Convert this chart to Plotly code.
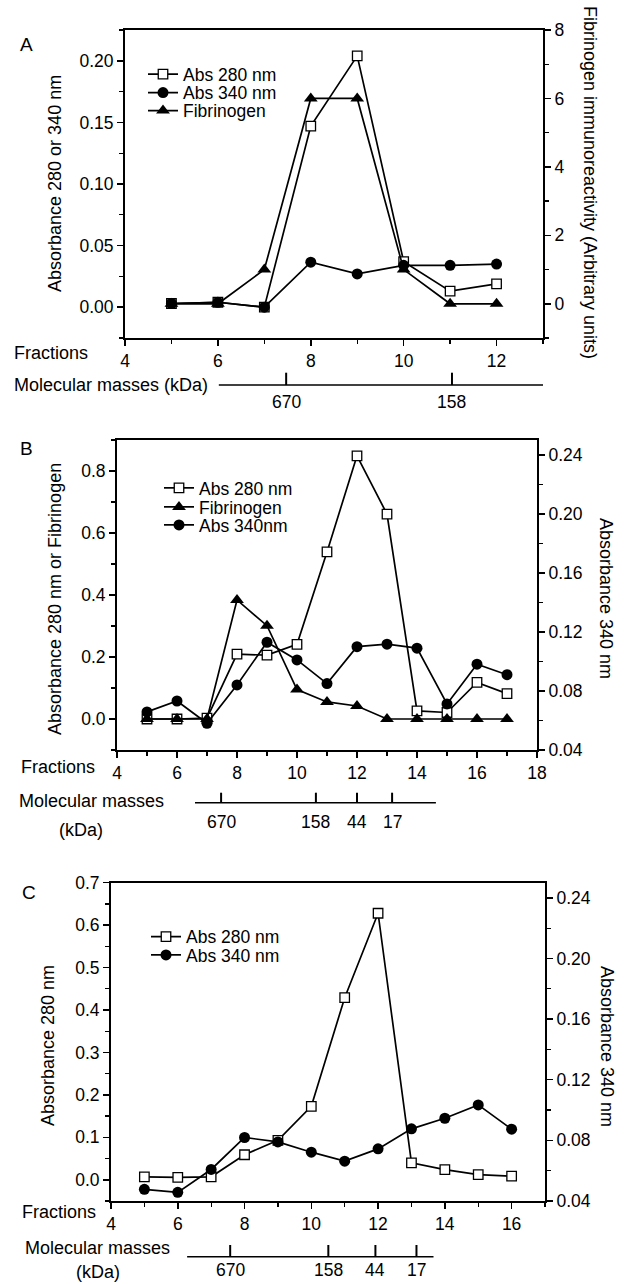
import plotly.graph_objects as go

W, H = 624, 1284

# ---------------- data ----------------
fractions_A = [5, 6, 7, 8, 9, 10, 11, 12]
abs280_A = [0.003, 0.004, 0.000, 0.147, 0.204, 0.037, 0.013, 0.019]
abs340_A = [0.003, 0.004, 0.000, 0.0365, 0.027, 0.034, 0.034, 0.035]
fib_A = [0, 0, 1.0, 6.0, 6.0, 1.0, 0, 0]

fractions_B = [5, 6, 7, 8, 9, 10, 11, 12, 13, 14, 15, 16, 17]
abs280_B = [0.0, 0.0, 0.003, 0.209, 0.206, 0.241, 0.539, 0.849, 0.661, 0.026, 0.021, 0.118, 0.082]
fib_B = [0, 0, 0, 0.384, 0.301, 0.095, 0.055, 0.042, 0, 0, 0, 0, 0]
abs340_B = [0.0658, 0.0732, 0.0581, 0.0841, 0.113, 0.101, 0.085, 0.110, 0.1117, 0.109, 0.0712, 0.0981, 0.091]

fractions_C = [5, 6, 7, 8, 9, 10, 11, 12, 13, 14, 15, 16]
abs280_C = [0.007, 0.0055, 0.007, 0.059, 0.093, 0.173, 0.429, 0.628, 0.040, 0.024, 0.012, 0.0086]
abs340_C = [0.0477, 0.0457, 0.0608, 0.0819, 0.079, 0.0722, 0.0663, 0.0744, 0.0876, 0.0946, 0.1034, 0.0874]

# molecular mass markers (in fraction units)
mw_labels_A = ["670", "158"]
mw_pos_A = [7.47, 11.04]
mw_span_A = [6.02, 13.09]
mw_labels_B = ["670", "158", "44", "17"]
mw_pos_B = [7.47, 10.63, 12.0, 13.17]
mw_span_B = [6.6, 14.63]
mw_labels_C = ["670", "158", "44", "17"]
mw_pos_C = [7.57, 10.51, 11.92, 13.15]
mw_span_C = [6.28, 13.66]

# ---------------- helpers ----------------
def px(x):
    return x / W

def py(y):
    return 1 - y / H

FONT = "Liberation Sans, Arial, Helvetica, sans-serif"
LW = 1.7

sq = dict(symbol="square", size=9.5, color="white", line=dict(color="black", width=1.3))
ci = dict(symbol="circle", size=11, color="black", line=dict(color="black", width=0))
tr = dict(symbol="triangle-up", size=12, color="black", line=dict(color="black", width=0))
ln = dict(color="black", width=LW)

fig = go.Figure()

# Panel A
fig.add_trace(go.Scatter(x=fractions_A, y=abs280_A, name="Abs 280 nm", mode="lines+markers",
                         marker=sq, line=ln, xaxis="x", yaxis="y", legend="legend"))
fig.add_trace(go.Scatter(x=fractions_A, y=abs340_A, name="Abs 340 nm", mode="lines+markers",
                         marker=ci, line=ln, xaxis="x", yaxis="y", legend="legend2"))
fig.add_trace(go.Scatter(x=fractions_A, y=fib_A, name="Fibrinogen", mode="lines+markers",
                         marker=tr, line=ln, xaxis="x", yaxis="y2", legend="legend3"))
# Panel B
fig.add_trace(go.Scatter(x=fractions_B, y=abs280_B, name="Abs 280 nm", mode="lines+markers",
                         marker=sq, line=ln, xaxis="x2", yaxis="y3", legend="legend4"))
fig.add_trace(go.Scatter(x=fractions_B, y=fib_B, name="Fibrinogen", mode="lines+markers",
                         marker=tr, line=ln, xaxis="x2", yaxis="y3", legend="legend5"))
fig.add_trace(go.Scatter(x=fractions_B, y=abs340_B, name="Abs 340nm", mode="lines+markers",
                         marker=ci, line=ln, xaxis="x2", yaxis="y4", legend="legend6"))
# Panel C
fig.add_trace(go.Scatter(x=fractions_C, y=abs280_C, name="Abs 280 nm", mode="lines+markers",
                         marker=sq, line=ln, xaxis="x3", yaxis="y5", legend="legend7"))
fig.add_trace(go.Scatter(x=fractions_C, y=abs340_C, name="Abs 340 nm", mode="lines+markers",
                         marker=ci, line=ln, xaxis="x3", yaxis="y6", legend="legend8"))

TICKFONT = dict(family=FONT, size=17.5, color="black")

def xax(dom, rng, anchor):
    return dict(domain=dom, range=rng, anchor=anchor, tick0=4, dtick=2,
                ticks="outside", ticklen=6, tickwidth=1.5, tickcolor="black",
                minor=dict(dtick=1, tick0=4, ticks="outside", ticklen=4, tickwidth=1.3, tickcolor="black"),
                showline=True, linewidth=2, linecolor="black", mirror=True, automargin=False,
                showgrid=False, zeroline=False, tickfont=TICKFONT)

def yax(dom, rng, anchor, dtick, tick0, fmt, mdt, side="left", overlay=None):
    d = dict(domain=dom, range=rng, anchor=anchor, dtick=dtick, tick0=tick0, tickformat=fmt,
             ticks="outside", ticklen=6, tickwidth=1.5, tickcolor="black", side=side,
             minor=dict(dtick=mdt, tick0=tick0, ticks="outside", ticklen=4, tickwidth=1.3, tickcolor="black"),
             showline=True, linewidth=2, linecolor="black", automargin=False,
             showgrid=False, zeroline=False, tickfont=TICKFONT)
    if overlay:
        d["overlaying"] = overlay
    return d

domA_x = [px(125), px(543)]
domA_y = [py(338), py(30)]
domB_x = [px(117), px(537)]
domB_y = [py(750), py(440)]
domC_x = [px(111), px(545)]
domC_y = [py(1201), py(882.7)]

layout = dict(
    template="none",
    width=W, height=H, margin=dict(l=0, r=0, t=0, b=0, autoexpand=False),
    paper_bgcolor="white", plot_bgcolor="white", showlegend=True,
    font=dict(family=FONT, size=18, color="black"),
    xaxis=xax(domA_x, [4, 13], "y"),
    yaxis=yax(domA_y, [-0.025, 0.225], "x", 0.05, 0, ".2f", 0.025),
    yaxis2=yax(domA_y, [-1, 8], "x", 2, 0, "d", 1, side="right", overlay="y"),
    xaxis2=xax(domB_x, [4, 18], "y3"),
    yaxis3=yax(domB_y, [-0.1, 0.9], "x2", 0.2, 0, ".1f", 0.1),
    yaxis4=yax(domB_y, [0.04, 0.25], "x2", 0.04, 0.04, ".2f", 0.02, side="right", overlay="y3"),
    xaxis3=xax(domC_x, [4, 17], "y5"),
    yaxis5=yax(domC_y, [-0.05, 0.7], "x3", 0.1, 0, ".1f", 0.05),
    yaxis6=yax(domC_y, [0.04, 0.25], "x3", 0.04, 0.04, ".2f", 0.02, side="right", overlay="y5"),
)

def leg(xp, yp):
    return dict(x=px(xp), y=py(yp), xanchor="left", yanchor="middle", visible=True,
                bgcolor="rgba(0,0,0,0)", borderwidth=0, itemwidth=30,
                font=dict(family=FONT, size=17.5, color="black"), tracegroupgap=0)

legend_pos = {
    "legend": (143, 74.3), "legend2": (143, 92.7), "legend3": (143, 110.7),
    "legend4": (159, 488), "legend5": (159, 507), "legend6": (159, 525),
    "legend7": (146, 936.7), "legend8": (146, 955),
}
for k, (xp, yp) in legend_pos.items():
    layout[k] = leg(xp, yp)

fig.update_layout(**layout)

# ---------------- annotations ----------------
def txt(x, y, s, size=18, angle=0, xanchor="center"):
    fig.add_annotation(x=px(x), y=py(y), xref="paper", yref="paper",
                       text=s, showarrow=False, textangle=angle, xanchor=xanchor, yanchor="middle",
                       font=dict(family=FONT, size=size, color="black"))

# panel letters
txt(26, 44, "A", 19)
txt(26, 448, "B", 19)
txt(29, 892, "C", 19)

# axis titles
txt(55, 184, "Absorbance 280 or 340 nm", 18, -90)
txt(590, 182, "Fibrinogen immunoreactivity (Arbitrary units)", 18, 90)
txt(55, 599, "Absorbance 280 nm or Fibrinogen", 18, -90)
txt(606, 598, "Absorbance 340 nm", 18, 90)
txt(48, 1046, "Absorbance 280 nm", 18, -90)
txt(607, 1046, "Absorbance 340 nm", 18, 90)

# Fractions labels
txt(12, 353, "Fractions", 18, xanchor="left")
txt(19, 767, "Fractions", 18, xanchor="left")
txt(20, 1212, "Fractions", 18, xanchor="left")

# Molecular masses labels
txt(12, 385, "Molecular masses (kDa)", 18, xanchor="left")
txt(17, 801, "Molecular masses", 18, xanchor="left")
txt(81, 830, "(kDa)", 18)
txt(23, 1248, "Molecular masses", 18, xanchor="left")
txt(98, 1272, "(kDa)", 18)

# molecular mass scales
def mw_scale(xref, span, pos, labels, y_line, y_tick, y_lab):
    fig.add_shape(type="line", xref=xref, yref="paper", x0=span[0], x1=span[1],
                  y0=py(y_line), y1=py(y_line), line=dict(color="black", width=1.5))
    for p, lab in zip(pos, labels):
        fig.add_shape(type="line", xref=xref, yref="paper", x0=p, x1=p,
                      y0=py(y_line), y1=py(y_tick), line=dict(color="black", width=2))
        fig.add_annotation(x=p, y=py(y_lab), xref=xref, yref="paper", text=lab, showarrow=False,
                           xanchor="center", yanchor="middle",
                           font=dict(family=FONT, size=17.5, color="black"))

mw_scale("x", mw_span_A, mw_pos_A, mw_labels_A, 385, 372.7, 402)
mw_scale("x2", mw_span_B, mw_pos_B, mw_labels_B, 802.7, 792.7, 821.7)
mw_scale("x3", mw_span_C, mw_pos_C, mw_labels_C, 1256.7, 1245, 1270)

fig.write_html(
    "out.html",
    config={"displayModeBar": False, "staticPlot": True},
    post_script="document.body.style.margin='0px';document.body.style.overflow='hidden';",
)
